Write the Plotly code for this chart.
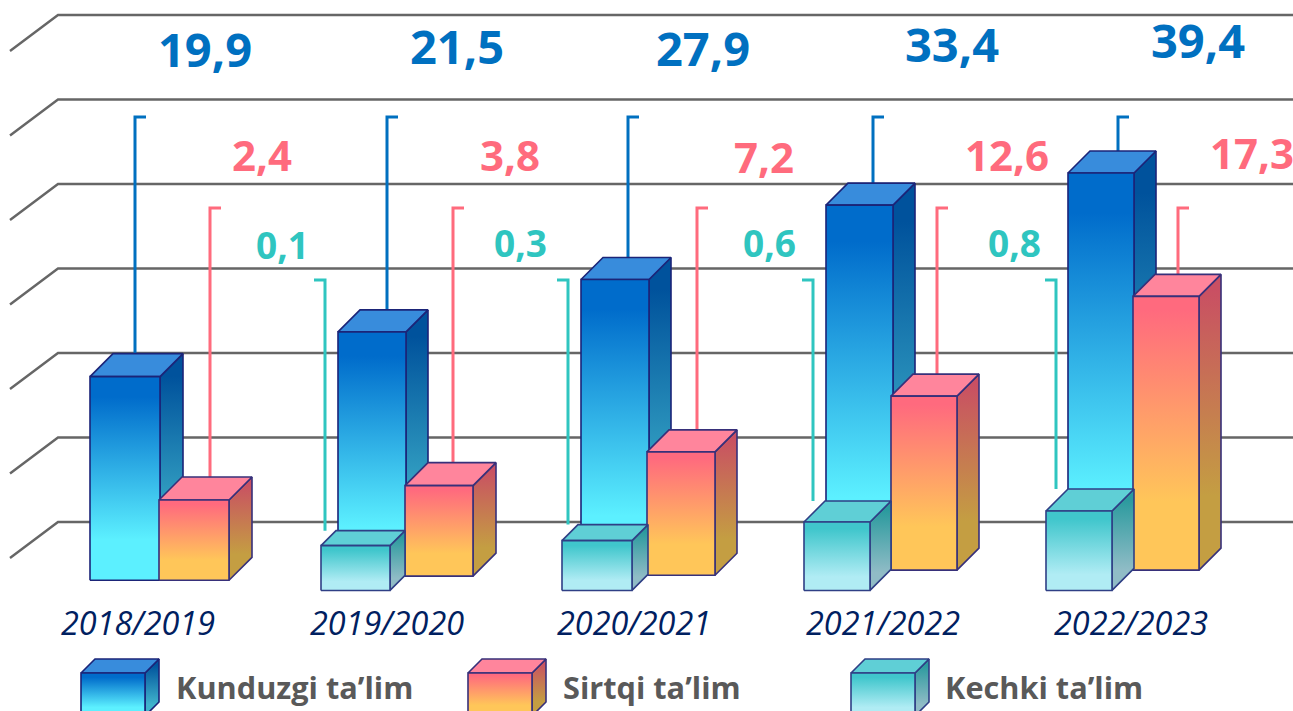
import plotly.graph_objects as go

# ---------- data ----------
years = ["2018/2019", "2019/2020", "2020/2021", "2021/2022", "2022/2023"]
kunduzgi_labels = ["19,9", "21,5", "27,9", "33,4", "39,4"]
sirtqi_labels = ["2,4", "3,8", "7,2", "12,6", "17,3"]
kechki_labels = [None, "0,1", "0,3", "0,6", "0,8"]
legend_names = ["Kunduzgi ta\u2019lim", "Sirtqi ta\u2019lim", "Kechki ta\u2019lim"]

# bar tops and bottoms as read on the chart's gridline scale (gridlines every 10)
kunduzgi_top = [17.2, 22.5, 28.7, 37.5, 41.3]
kunduzgi_bottom = [-6.9, -6.4, -6.3, -5.7, -5.7]
sirtqi_top = [2.6, 4.3, 8.3, 14.9, 26.7]
sirtqi_bottom = [-6.9, -6.4, -6.3, -5.7, -5.7]
kechki_top = [None, -2.8, -2.2, 0.0, 1.3]
kechki_bottom = [None, -8.1, -8.1, -8.1, -8.1]
grid_levels = [0, 10, 20, 30, 40, 50, 60]

# ---------- layout geometry ----------
W, H = 1293, 711
UNIT = 8.45              # pixels per scale unit
Y0_PX = 522              # pixel row of scale value 0


def dv(px):
    return px / UNIT


def lv(py):
    return (Y0_PX - py) / UNIT


blue_x = [90, 338, 581, 826, 1068]
blue_w = [70, 68, 68, 67, 66]
pink_x = [159, 405, 647, 891, 1133]
pink_w = [70, 68, 68, 66, 66]
teal_x = [None, 321, 562, 804, 1046]
teal_w = [None, 69, 70, 66, 66]
blue_d = [23, 22, 22, 22, 22]
pink_d = [23, 23, 22, 22, 22]
teal_d = [None, 15, 16, 21, 22]

BLUE, PINK, TEAL = "#0070C0", "#FF6B7D", "#2FC5C0"
OUT_BLUE, OUT_PINK, OUT_TEAL = "#1B2478", "#37307A", "#2F3F85"

STYLE = {
    "blue": dict(
        front=[[0, "#5CF0FF"], [0.2, "#5CF0FF"], [0.9, "#006CCB"], [1, "#006CCB"]],
        side=[[0, "#40B4CC"], [0.2, "#40B4CC"], [0.9, "#00529C"], [1, "#00529C"]],
        top="#388CDC", out=OUT_BLUE),
    "pink": dict(
        front=[[0, "#FFC659"], [0.25, "#FFC659"], [0.95, "#FF6A7E"], [1, "#FF6A7E"]],
        side=[[0, "#C49E42"], [0.25, "#C49E42"], [0.95, "#C94F63"], [1, "#C94F63"]],
        top="#FF859C", out=OUT_PINK),
    "teal": dict(
        front=[[0, "#B0ECF4"], [0.2, "#B0ECF4"], [0.9, "#40C6CC"], [1, "#40C6CC"]],
        side=[[0, "#90BCC6"], [0.2, "#90BCC6"], [0.9, "#2A9A9E"], [1, "#2A9A9E"]],
        top="#5FCFD6", out=OUT_TEAL),
}

fig = go.Figure()


def face(xs, ys, out, color=None, scale=None):
    kw = dict(fillcolor=color) if color else dict(
        fillgradient=dict(type="vertical", colorscale=scale))
    fig.add_trace(go.Scatter(x=xs, y=ys, mode="lines", fill="toself",
                             line=dict(color=out, width=1.6),
                             hoverinfo="skip", showlegend=False, **kw))


def bar(x, w, d, top, bottom, kind):
    s = STYLE[kind]
    e = dv(d)
    face([x + w, x + w + d, x + w + d, x + w, x + w],
         [bottom, bottom + e, top + e, top, bottom], s["out"], scale=s["side"])
    face([x, x + d, x + w + d, x + w, x],
         [top, top + e, top + e, top, top], s["out"], color=s["top"])
    face([x, x + w, x + w, x, x],
         [bottom, bottom, top, top, bottom], s["out"], scale=s["front"])


def line(xs, ys, color, width):
    fig.add_trace(go.Scatter(x=xs, y=ys, mode="lines",
                             line=dict(color=color, width=width),
                             hoverinfo="skip", showlegend=False))


# gridlines with slanted ends
for g in grid_levels:
    line([10, 58, W], [g - dv(36), g, g], "#666666", 2.4)

# leader lines
blue_lead = [135, 387, 628, 873, 1118]
pink_lead = [210, 453, 697, 937, 1178]
teal_lead = [None, 325, 568, 813, 1056]
HOOK = 11
for i in range(5):
    line([blue_lead[i] + HOOK, blue_lead[i], blue_lead[i]],
         [lv(117), lv(117), kunduzgi_top[i] + dv(blue_d[i])], BLUE, 3)
    line([pink_lead[i] + HOOK, pink_lead[i], pink_lead[i]],
         [lv(208), lv(208), sirtqi_top[i] + dv(pink_d[i])], PINK, 3)
    if teal_lead[i] is not None:
        line([teal_lead[i] - HOOK, teal_lead[i], teal_lead[i]],
             [lv(280), lv(280), kechki_top[i] + dv(teal_d[i])], TEAL, 3)

# bars, back to front
for i in range(5):
    bar(blue_x[i], blue_w[i], blue_d[i], kunduzgi_top[i], kunduzgi_bottom[i], "blue")
for i in range(5):
    bar(pink_x[i], pink_w[i], pink_d[i], sirtqi_top[i], sirtqi_bottom[i], "pink")
for i in range(5):
    if kechki_top[i] is not None:
        bar(teal_x[i], teal_w[i], teal_d[i], kechki_top[i], kechki_bottom[i], "teal")

# legend cubes
legend_x = [81, 468, 851]
legend_kind = ["blue", "pink", "teal"]
for x, k in zip(legend_x, legend_kind):
    bar(x, 64, 14, lv(673), lv(716), k)

FONT = "Open Sans"
ann = []


def text(x, py, s, size, color, bold=True, italic=False, anchor="center"):
    ann.append(dict(x=x, y=lv(py), text=f"<b>{s}</b>" if bold else s,
                    xref="x", yref="y", showarrow=False, xanchor=anchor, yanchor="middle",
                    font=dict(family=FONT, size=size, color=color,
                              style="italic" if italic else "normal")))


blue_lx = [205, 457, 703, 952, 1198]
blue_ly = [49, 46, 48, 44, 40]
pink_lx = [262, 510, 764, 1007, 1252]
pink_ly = [154, 154, 156, 154, 152]
teal_lx = [None, 282, 520, 769, 1014]
teal_ly = [None, 244, 242, 242, 242]
year_x = [138, 387, 634, 883, 1131]
for i in range(5):
    text(blue_lx[i], blue_ly[i], kunduzgi_labels[i], 47, BLUE)
    text(pink_lx[i], pink_ly[i], sirtqi_labels[i], 42, PINK)
    if kechki_labels[i]:
        text(teal_lx[i], teal_ly[i], kechki_labels[i], 37, TEAL)
    text(year_x[i], 622, years[i], 32.4, "#002060", bold=False, italic=True)

legend_tx = [174, 561, 943]
for x, n in zip(legend_tx, legend_names):
    text(x, 687, n, 30.7, "#595959", anchor="left")

fig.update_layout(
    width=W, height=H, margin=dict(l=0, r=0, t=0, b=0),
    paper_bgcolor="white", plot_bgcolor="white", showlegend=False,
    xaxis=dict(range=[0, W], visible=False, fixedrange=True),
    yaxis=dict(range=[lv(H), lv(0)], visible=False, fixedrange=True),
    annotations=ann,
)
fig.write_html("out.html", config=dict(displayModeBar=False),
               post_script="document.body.style.margin='0';")
